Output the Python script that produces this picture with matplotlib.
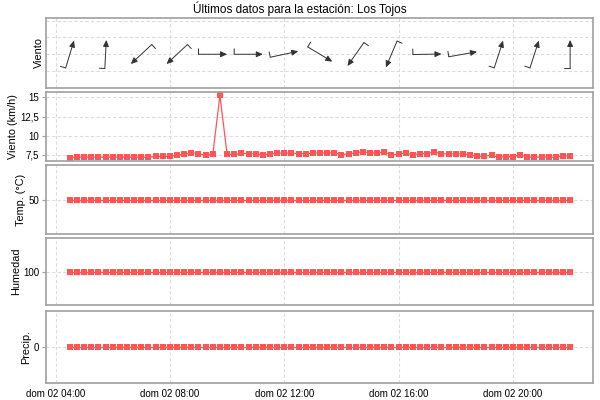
import matplotlib
matplotlib.use("Agg")
import matplotlib.pyplot as plt
import matplotlib.dates as mdates
import matplotlib.transforms as mtransforms
import matplotlib.ticker as mticker
import numpy as np
import pandas as pd

plt.rcParams['font.family'] = ['Liberation Sans', 'DejaVu Sans']

# ---- data ----
start_time = "2020-02-02 04:30"
n_points = 71
step = "15min"

wind_speed = [7.15, 7.2, 7.2, 7.2, 7.2, 7.2, 7.2, 7.2, 7.2, 7.2, 7.2, 7.2,
              7.3, 7.3, 7.3,
              7.5, 7.55, 7.8, 7.6, 7.5, 7.55, 15.25, 7.6, 7.55, 7.7, 7.67,
              7.63, 7.5, 7.63, 7.72, 7.72, 7.72, 7.67, 7.67, 7.72, 7.76,
              7.76, 7.76, 7.54, 7.63, 7.76, 7.93, 7.76, 7.76, 7.85, 7.5,
              7.59, 7.76, 7.5, 7.67, 7.67, 7.9, 7.63, 7.63,
              7.63, 7.63, 7.5, 7.33, 7.33, 7.46, 7.2, 7.28, 7.28, 7.5,
              7.2, 7.2, 7.2, 7.2, 7.2, 7.37, 7.37]
# wind direction (degrees, where the wind comes from), one every 5 readings
wind_dir = [197, 183, 47, 47, 270, 270, 258, 301, 35, 23, 269, 260, 198, 198, 180]
wind_every = 5
temperature = [50] * n_points
humidity = [100] * n_points
precip = [0] * n_points

title = "Últimos datos para la estación: Los Tojos"
ylabels = ["Viento", "Viento (km/h)", "Temp. (°C)", "Humedad", "Precip."]

times = pd.date_range(start_time, periods=n_points, freq=step)
xnum = mdates.date2num(times.to_pydatetime())

RED = '#ff5555'
FRAME = '#a0a0a0'
GRID = '#dcdcdc'

fig = plt.figure(figsize=(6, 4), dpi=100)
left, right = 46 / 600, 593 / 600
panels_px = [(18, 88), (92, 161), (165, 234), (238, 305), (311, 383)]
axes = []
for top, bot in panels_px:
    ax = fig.add_axes([left, 1 - bot / 400, right - left, (bot - top) / 400])
    axes.append(ax)

xmin = mdates.date2num(pd.Timestamp("2020-02-02 03:40"))
xmax = mdates.date2num(pd.Timestamp("2020-02-02 22:48"))

for i, ax in enumerate(axes):
    ax.set_xlim(xmin, xmax)
    ax.xaxis.set_major_locator(mdates.HourLocator(byhour=[4, 8, 12, 16, 20]))
    ax.xaxis.set_major_formatter(mdates.DateFormatter('dom %d %H:%M'))
    ax.grid(True, color=GRID, linestyle=(0, (3, 2)), linewidth=0.8)
    ax.set_axisbelow(True)
    for s in ax.spines.values():
        s.set_color(FRAME)
        s.set_linewidth(1.2)
    ax.tick_params(axis='both', labelsize=7, length=3, color=FRAME, pad=2)
    ax.tick_params(axis='x', length=0, pad=4)
    ax.set_ylabel(ylabels[i], fontsize=7.8, labelpad=1.5)
    if i < 4:
        ax.tick_params(axis='x', labelbottom=False)

# panel 1: wind arrows
ax0 = axes[0]
ax0.set_ylim(-2.0, 2.15)
ax0.set_yticks([-1, 0, 1, 2])
ax0.tick_params(axis='y', labelleft=False, length=0)
half = 14.3
barb = 5.5
for xc, d in zip(xnum[::wind_every], wind_dir):
    b = np.deg2rad((d + 180) % 360)
    ux, uy = np.sin(b), np.cos(b)
    head = mtransforms.offset_copy(ax0.transData, fig=fig, x=half * ux, y=half * uy, units='dots')
    tail = mtransforms.offset_copy(ax0.transData, fig=fig, x=-half * ux, y=-half * uy, units='dots')
    ax0.annotate('', xy=(xc, 0), xycoords=head, xytext=(xc, 0), textcoords=tail,
                 arrowprops=dict(arrowstyle='-|>,head_length=0.55,head_width=0.25',
                                 lw=0.7, color='#333333', shrinkA=0, shrinkB=0,
                                 mutation_scale=7))
    bx, by = -uy, ux
    bend = mtransforms.offset_copy(ax0.transData, fig=fig,
                                   x=-half * ux + barb * bx, y=-half * uy + barb * by, units='dots')
    ax0.annotate('', xy=(xc, 0), xycoords=bend, xytext=(xc, 0), textcoords=tail,
                 arrowprops=dict(arrowstyle='-', lw=0.7, color='#333333',
                                 shrinkA=0, shrinkB=0))

# panel 2: wind speed
ax1 = axes[1]
ax1.plot(xnum, wind_speed, color=RED, lw=0.9, marker='s', ms=5, mew=0)
ax1.set_ylim(6.7, 15.7)
ax1.set_yticks([7.5, 10, 12.5, 15])
ax1.yaxis.set_major_formatter(mticker.FuncFormatter(
    lambda v, p: (f"{v:g}").replace('.', ',')))

# panel 3-5
for ax, vals, lim, tick in [(axes[2], temperature, (0, 100), 50),
                            (axes[3], humidity, (50, 150), 100),
                            (axes[4], precip, (-1, 1), 0)]:
    ax.plot(xnum, vals, color=RED, lw=0.9, marker='s', ms=5, mew=0)
    ax.set_ylim(*lim)
    ax.set_yticks([tick])

fig.text(0.5, 1 - 9 / 400, title, ha='center', va='center', fontsize=8.5)

fig.savefig("out.png", dpi=100)
